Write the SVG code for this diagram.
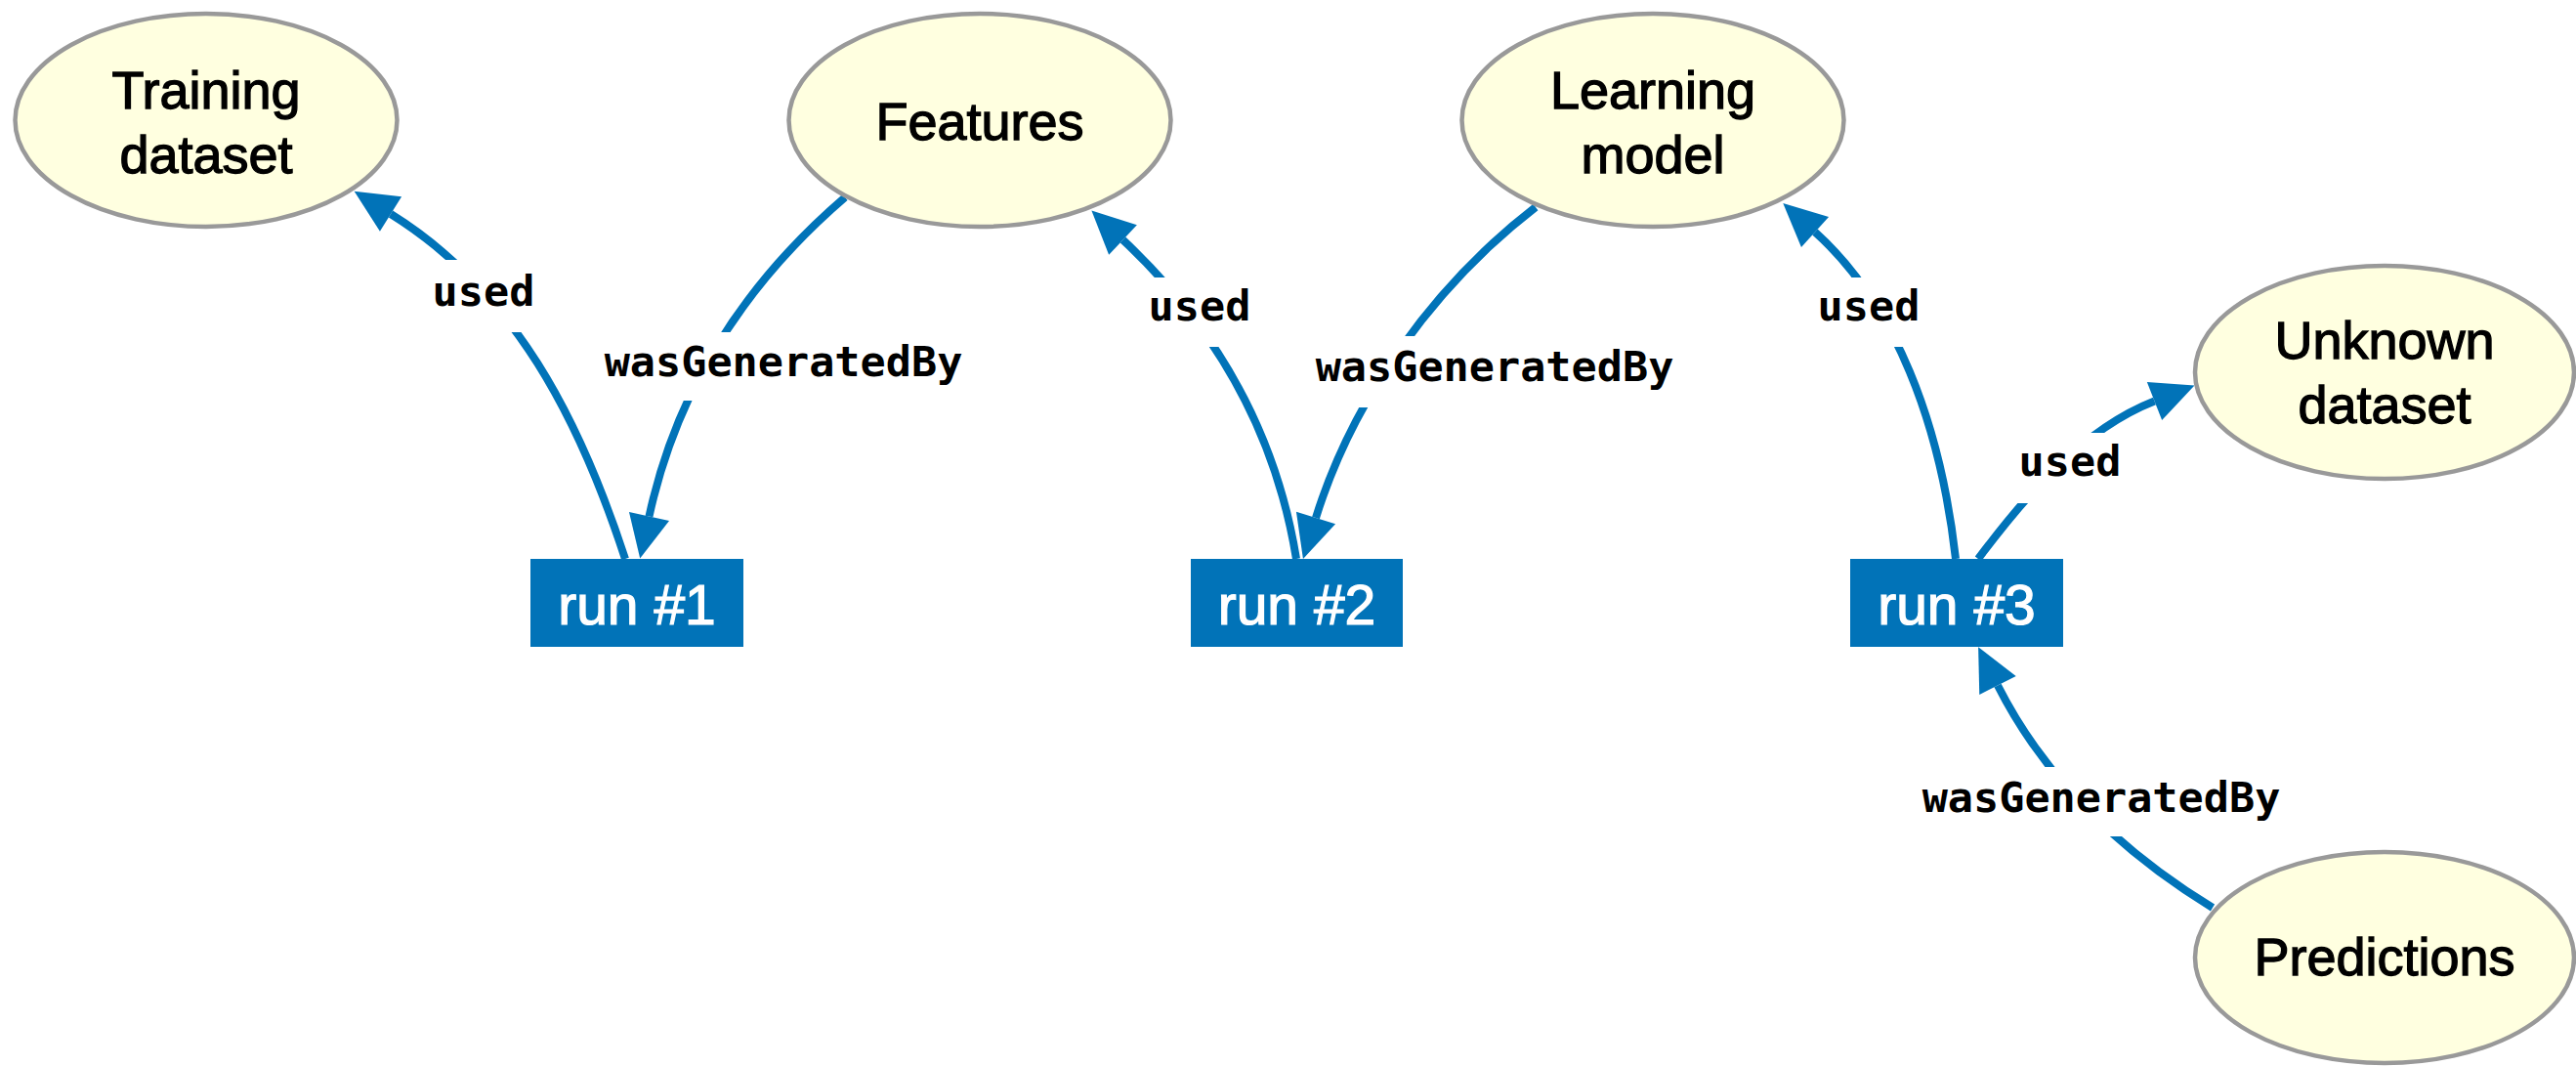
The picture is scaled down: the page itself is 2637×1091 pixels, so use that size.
<svg xmlns="http://www.w3.org/2000/svg" width="2637" height="1091" viewBox="0 0 2637 1091">
<style>
.ent ellipse{fill:#FFFFE0;stroke:#999999;stroke-width:4.5}
.ent text{font-family:"Liberation Sans",Arial,Helvetica,sans-serif;font-size:54px;fill:#000;stroke:#000;stroke-width:1.3;text-anchor:middle}
.act rect{fill:#0173B8}
.act text{font-family:"Liberation Sans",Arial,Helvetica,sans-serif;font-size:57px;fill:#fff;stroke:#fff;stroke-width:1.2;text-anchor:middle}
.edge path{fill:none;stroke:#0173B8;stroke-width:8;marker-end:url(#arrow)}
.lbl rect{fill:#fff}
.lbl text{font-family:"DejaVu Sans Mono","Liberation Mono",monospace;font-weight:bold;font-size:43.5px;fill:#000;text-anchor:middle}
</style>
<defs>
<marker id="arrow" markerUnits="userSpaceOnUse" markerWidth="46" markerHeight="44" refX="0" refY="21" orient="auto" overflow="visible">
<path d="M0,0 L44,21 L0,42 z" fill="#0173B8"/>
</marker>
</defs>
<rect width="2637" height="1091" fill="#ffffff"/>
<g id="connectors" class="edge">
<path d="M640,572 C593.5,429.5 527,298 400,219"/>
<path d="M865,202 C759,293 692,401.5 664.5,528.5"/>
<path d="M1327,572 C1304.6,433.4 1237,327.5 1149.5,245.5"/>
<path d="M1572,212 C1469.3,291.3 1385.5,406 1347,530"/>
<path d="M2002,572 C1986.3,432.8 1939.8,311 1858,237.5"/>
<path d="M2025,572 C2073,508 2131,439.7 2205.5,410.5"/>
<path d="M2265,929 C2171.5,871.8 2094.7,799.6 2045,701.5"/>
</g>
<g id="labels" class="lbl">
<g id="label-used-1"><rect x="438" y="266" width="114" height="74"/><text x="495" y="313">used</text></g>
<g id="label-wgb-1"><rect x="612" y="340" width="381" height="70"/><text x="802" y="385">wasGeneratedBy</text></g>
<g id="label-used-2"><rect x="1171" y="284" width="114" height="71"/><text x="1228" y="328">used</text></g>
<g id="label-wgb-2"><rect x="1340" y="344" width="381" height="73"/><text x="1530" y="390">wasGeneratedBy</text></g>
<g id="label-used-3"><rect x="1856" y="284" width="114" height="71"/><text x="1913" y="328">used</text></g>
<g id="label-used-4"><rect x="2062" y="443" width="114" height="72"/><text x="2119" y="487">used</text></g>
<g id="label-wgb-3"><rect x="1961" y="785" width="381" height="71"/><text x="2151" y="831">wasGeneratedBy</text></g>
</g>
<g id="training-dataset" class="ent"><ellipse cx="211" cy="123" rx="195.5" ry="109"/><text x="211" y="111">Training</text><text x="211" y="177">dataset</text></g>
<g id="features" class="ent"><ellipse cx="1003" cy="123" rx="195.5" ry="109"/><text x="1003" y="143">Features</text></g>
<g id="learning-model" class="ent"><ellipse cx="1692" cy="123" rx="195.5" ry="109"/><text x="1692" y="111">Learning</text><text x="1692" y="177">model</text></g>
<g id="unknown-dataset" class="ent"><ellipse cx="2441" cy="381" rx="194" ry="109"/><text x="2441" y="367">Unknown</text><text x="2441" y="433">dataset</text></g>
<g id="predictions" class="ent"><ellipse cx="2441" cy="980" rx="194" ry="108"/><text x="2441" y="998">Predictions</text></g>
<g id="run1" class="act"><rect x="543" y="572" width="218" height="90"/><text x="652" y="639">run #1</text></g>
<g id="run2" class="act"><rect x="1219" y="572" width="217" height="90"/><text x="1327.5" y="639">run #2</text></g>
<g id="run3" class="act"><rect x="1894" y="572" width="218" height="90"/><text x="2003" y="639">run #3</text></g>
</svg>
